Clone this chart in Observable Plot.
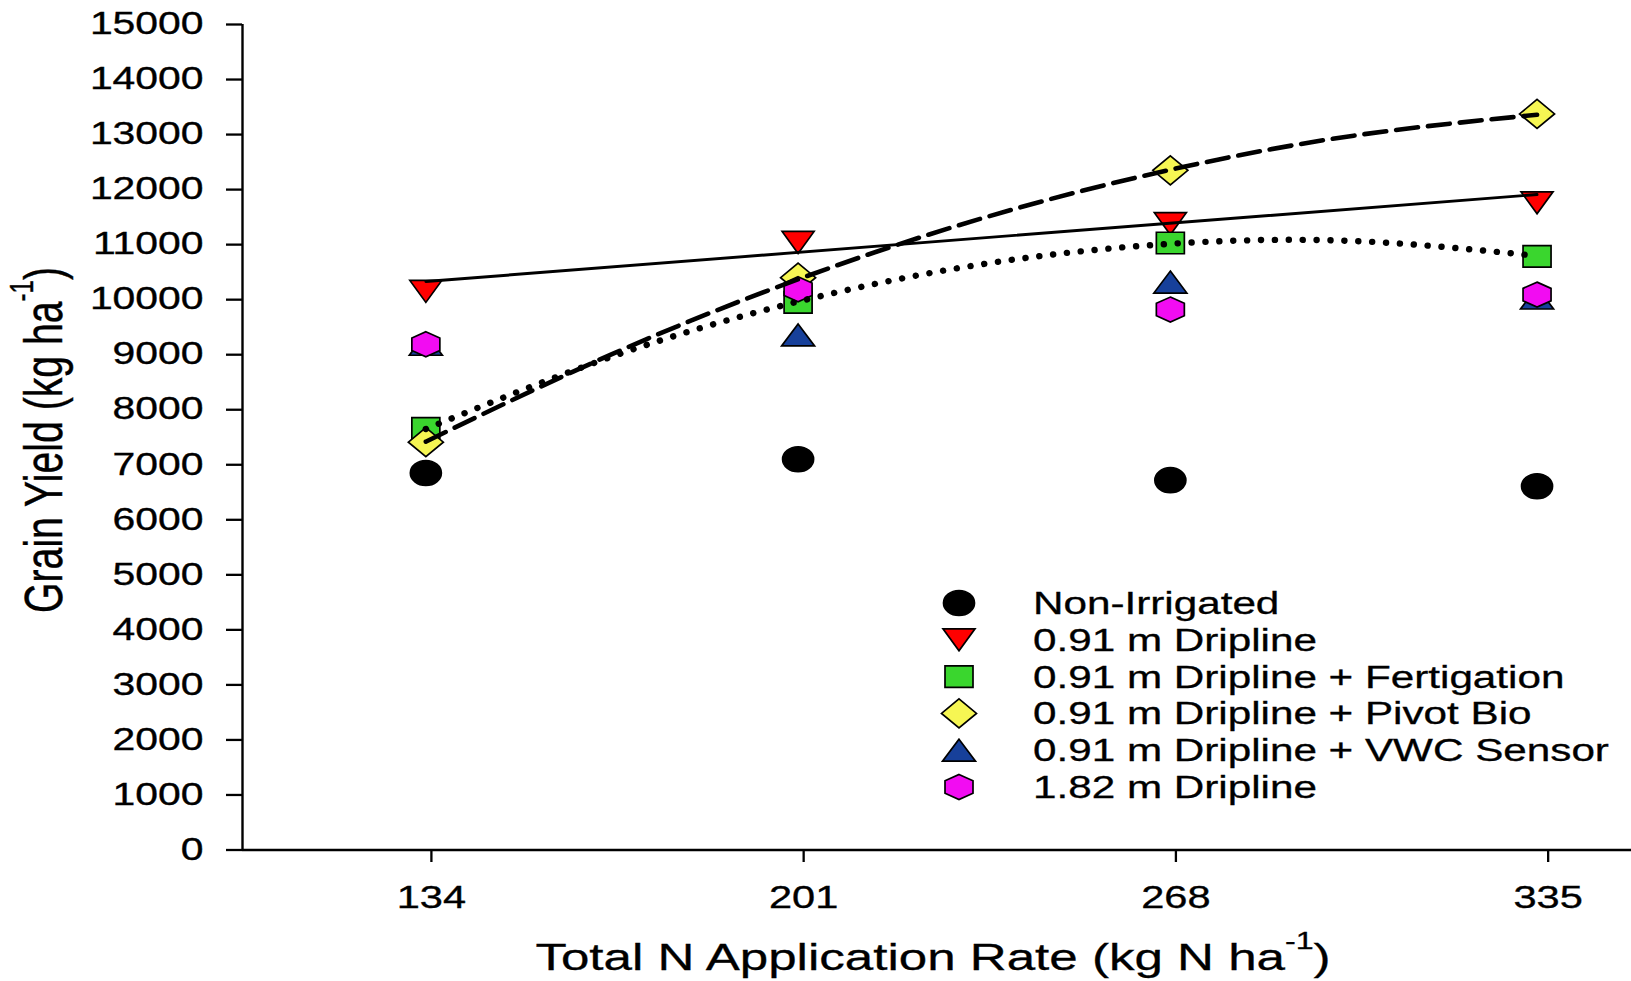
<!DOCTYPE html>
<html>
<head>
<meta charset="utf-8">
<script src="https://cdn.jsdelivr.net/npm/d3@7"></script>
<script src="https://cdn.jsdelivr.net/npm/@observablehq/plot@0.6"></script>
<style>
  html, body { margin: 0; padding: 0; background: #ffffff; }
  #chart { position: relative; width: 1631px; height: 981px; overflow: hidden; background: #ffffff; }
</style>
</head>
<body>
<div id="chart"></div>
<script>
// ---------------- data ----------------
const rateTicks = [134, 201, 268, 335];          // x tick labels (kg N ha-1)
const markerX   = [133, 200, 267, 333];          // where the markers sit in the picture
const yTicks    = [0, 1000, 2000, 3000, 4000, 5000, 6000, 7000, 8000, 9000, 10000, 11000, 12000, 13000, 14000, 15000];

const seriesNames = [
  "Non-Irrigated",
  "0.91 m Dripline",
  "0.91 m Dripline + Fertigation",
  "0.91 m Dripline + Pivot Bio",
  "0.91 m Dripline + VWC Sensor",
  "1.82 m Dripline"
];
const seriesColors = ["#000000", "#ff0000", "#3ad62e", "#f6f653", "#17409a", "#f20cf2"];

const nonIrrigated = [6850, 7100, 6720, 6610];
const drip091      = [10150, 11040, 11380, 11760];
const fertigation  = [7660, 9950, 11030, 10785];
const pivotBio     = [7410, 10400, 12350, 13375];
const vwcSensor    = [9190, 9360, 10320, 10030];
const drip182      = [9190, 10190, 9820, 10092];

// fitted curves
const linearFitX = [133, 333];
const linearFit  = [10330, 11910];                       // solid line (0.91 m Dripline)
const curveFitX  = [133, 166.5, 200, 233.5, 267, 300, 333];
const pivotFit   = [7420, 9010, 10370, 11490, 12360, 12980, 13360];  // dashed
const fertFit    = [7650, 8965, 9965, 10650, 11015, 11065, 10795];   // dotted

// ---------------- marker shapes ----------------
function ellipseSym(w, h) {
  const rx = w / 2, ry = h / 2, k = 0.5523;
  return { draw(ctx) {
    ctx.moveTo(rx, 0);
    ctx.bezierCurveTo(rx, k * ry, k * rx, ry, 0, ry);
    ctx.bezierCurveTo(-k * rx, ry, -rx, k * ry, -rx, 0);
    ctx.bezierCurveTo(-rx, -k * ry, -k * rx, -ry, 0, -ry);
    ctx.bezierCurveTo(k * rx, -ry, rx, -k * ry, rx, 0);
    ctx.closePath();
  }};
}
function polySym(pts) {
  return { draw(ctx) {
    ctx.moveTo(pts[0][0], pts[0][1]);
    for (let i = 1; i < pts.length; i++) ctx.lineTo(pts[i][0], pts[i][1]);
    ctx.closePath();
  }};
}
const symbols = [
  ellipseSym(31, 25),
  polySym([[-16, -11], [16, -11], [0, 11]]),
  polySym([[-14, -10.75], [14, -10.75], [14, 10.75], [-14, 10.75]]),
  polySym([[0, -14.5], [17.5, 0], [0, 14.5], [-17.5, 0]]),
  polySym([[0, -11], [16.5, 11], [-16.5, 11]]),
  polySym([[0, -12.5], [14, -6.25], [14, 6.25], [0, 12.5], [-14, 6.25], [-14, -6.25]])
];

const seriesValues = [nonIrrigated, drip091, fertigation, pivotBio, vwcSensor, drip182];
const toRows = (xs, ys) => xs.map((x, i) => ({ x, y: ys[i] }));

const FONT = "'Liberation Sans', Arial, Helvetica, sans-serif";

const dotMarks = seriesValues.map((vals, i) =>
  Plot.dot(toRows(markerX, vals), {
    x: "x", y: "y", r: 10,
    symbol: symbols[i],
    fill: seriesColors[i],
    stroke: "#000000",
    strokeWidth: 1.7
  })
);

const plot = Plot.plot({
  width: 1631,
  height: 981,
  marginLeft: 242,
  marginRight: 0,
  marginTop: 24,
  marginBottom: 131.5,
  style: { fontFamily: FONT, background: "#ffffff", color: "#000000", overflow: "visible" },
  x: { domain: [100, 350], label: null },
  y: { domain: [0, 15000], label: null },
  marks: [
    Plot.axisY({ ticks: yTicks, tickSize: 16, tickPadding: 23, fontSize: 30.5, label: null,
                 tickFormat: d => String(d), strokeWidth: 2.3, stroke: "#000", fill: "#000" }),
    Plot.axisX({ ticks: rateTicks, tickSize: 12.5, tickPadding: 23, fontSize: 31, label: null,
                 tickFormat: d => String(d), strokeWidth: 2.3, stroke: "#000", fill: "#000" }),
    Plot.ruleX([100], { stroke: "#000", strokeWidth: 2.4 }),
    Plot.ruleY([0], { stroke: "#000", strokeWidth: 2.4 }),
    ...dotMarks,
    Plot.line(toRows(linearFitX, linearFit), { x: "x", y: "y", stroke: "#000", strokeWidth: 2.9 }),
    Plot.line(toRows(curveFitX, pivotFit), { x: "x", y: "y", curve: "natural", stroke: "#000",
              strokeWidth: 4.6, strokeDasharray: "22 10" }),
    Plot.line(toRows(curveFitX, fertFit), { x: "x", y: "y", curve: "natural", stroke: "#000",
              strokeWidth: 6.4, strokeDasharray: "0.1 13.8", strokeLinecap: "round" })
  ]
});

// stretch tick labels horizontally, as in the reference picture
function stretchText(node, s) {
  const t = node.getAttribute("transform") || "";
  const xa = node.getAttribute("x"), ya = node.getAttribute("y");
  if (xa != null || ya != null) {
    const X = parseFloat(xa) || 0, Y = parseFloat(ya) || 0;
    node.setAttribute("transform", `${t} translate(${X},${Y}) scale(${s},1) translate(${-X},${-Y})`);
  } else {
    node.setAttribute("transform", `${t} scale(${s},1)`);
  }
}
plot.querySelectorAll("text").forEach(n => {
  stretchText(n, 1.34);
  n.setAttribute("stroke", "#000");
  n.setAttribute("stroke-width", "0.35");
});

const svg = d3.select(plot);

// axis titles
const xTitle = svg.append("text")
  .attr("transform", "translate(933,970) scale(1.37,1)")
  .attr("text-anchor", "middle")
  .attr("font-family", FONT)
  .attr("font-size", 37.3)
  .attr("fill", "#000")
  .attr("stroke", "#000").attr("stroke-width", 0.3);
xTitle.append("tspan").text("Total N Application Rate (kg N ha");
xTitle.append("tspan").attr("font-size", 23.5).attr("dy", -21).text("-1");
xTitle.append("tspan").attr("dy", 21).text(")");

const yTitle = svg.append("text")
  .attr("transform", "translate(62,440) rotate(-90) scale(1,1.37)")
  .attr("text-anchor", "middle")
  .attr("font-family", FONT)
  .attr("font-size", 39.2)
  .attr("fill", "#000")
  .attr("stroke", "#000").attr("stroke-width", 0.3);
yTitle.append("tspan").text("Grain Yield (kg ha");
yTitle.append("tspan").attr("font-size", 24).attr("dy", -21.5).text("-1");
yTitle.append("tspan").attr("dy", 21.5).text(")");

// legend
const legend = svg.append("g").attr("aria-label", "legend");
seriesNames.forEach((name, i) => {
  const cy = 603 + i * 36.8;
  legend.append("path")
    .attr("d", d3.symbol(symbols[i])())
    .attr("transform", `translate(959,${cy})`)
    .attr("fill", seriesColors[i])
    .attr("stroke", "#000")
    .attr("stroke-width", 1.7);
  legend.append("text")
    .attr("transform", `translate(1033,${cy + 11}) scale(1.38,1)`)
    .attr("text-anchor", "start")
    .attr("font-family", FONT)
    .attr("font-size", 30.6)
    .attr("fill", "#000")
    .attr("stroke", "#000").attr("stroke-width", 0.3)
    .text(name);
});

document.getElementById("chart").appendChild(plot);
</script>
</body>
</html>
